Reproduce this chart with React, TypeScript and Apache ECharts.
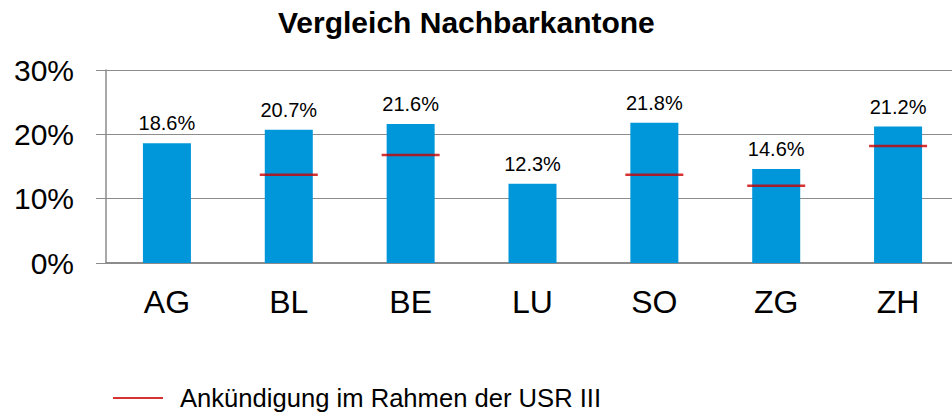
import React, { useEffect, useRef } from "react";
import * as echarts from "echarts";

const categories = ["AG", "BL", "BE", "LU", "SO", "ZG", "ZH"];
const currentRates = [18.6, 20.7, 21.6, 12.3, 21.8, 14.6, 21.2];
const announcedRates: (number | string)[] = ["-", 13.7, 16.8, "-", 13.7, 12.0, 18.2];
const yTicks = [0, 10, 20, 30];
const titleText = "Vergleich Nachbarkantone";
const legendName = "Ankündigung im Rahmen der USR III";

export default function App() {
  const ref = useRef<HTMLDivElement>(null);
  useEffect(() => {
    document.body.style.margin = "0";
    if (!ref.current) return;
    const chart = echarts.init(ref.current, null, { renderer: "svg" });
    const font = "'Liberation Sans', Arial, sans-serif";
    const gray = "#8c8c8c";
    chart.setOption({
      animation: false,
      textStyle: { fontFamily: font },
      title: {
        text: titleText,
        left: 278,
        top: 7,
        padding: 0,
        textStyle: { fontFamily: font, fontSize: 30, fontWeight: "bold", color: "#000" },
      },
      legend: {
        data: [legendName],
        left: 113,
        top: 385,
        padding: 0,
        icon: "rect",
        itemWidth: 50,
        itemHeight: 2,
        textStyle: { fontFamily: font, fontSize: 25.6, color: "#000", padding: [0, 0, 0, 12] },
      },
      grid: { left: 106, right: 0, top: 70, bottom: 153, containLabel: false },
      xAxis: {
        type: "category",
        data: categories,
        axisLine: { lineStyle: { color: gray, width: 2 } },
        axisTick: { length: 9, lineStyle: { color: gray, width: 1 } },
        axisLabel: { fontFamily: font, fontSize: 32, color: "#000", margin: 23 },
      },
      yAxis: {
        type: "value",
        min: yTicks[0],
        max: yTicks[yTicks.length - 1],
        interval: 10,
        axisLine: { show: true, lineStyle: { color: gray, width: 1.5 } },
        axisTick: { show: true, length: 10, lineStyle: { color: gray, width: 1 } },
        splitLine: { lineStyle: { color: gray, width: 1 } },
        axisLabel: {
          fontFamily: font,
          fontSize: 30,
          color: "#000",
          margin: 32,
          formatter: "{value}%",
        },
      },
      series: [
        {
          name: "Aktuell",
          type: "bar",
          data: currentRates,
          barWidth: 48,
          itemStyle: { color: "#0096DA" },
          label: {
            show: true,
            position: "top",
            distance: 10,
            fontFamily: font,
            fontSize: 20,
            color: "#000",
            formatter: (p: any) => p.value.toFixed(1) + "%",
          },
        },
        {
          name: legendName,
          type: "scatter",
          data: announcedRates,
          symbol: "rect",
          symbolSize: [58, 2.5],
          itemStyle: { color: "#cc0000" },
          z: 5,
        },
      ],
    });
    return () => chart.dispose();
  }, []);
  return (
    <div style={{ width: 952, height: 416, overflow: "hidden", position: "relative" }}>
      <div ref={ref} style={{ width: 959, height: 416 }} />
    </div>
  );
}
